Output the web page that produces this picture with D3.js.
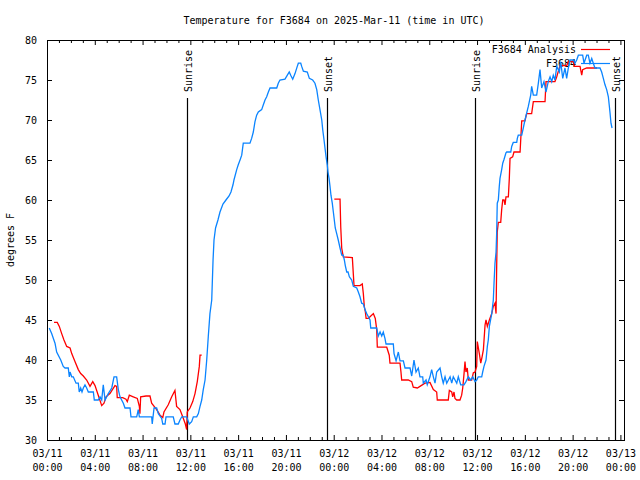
<!DOCTYPE html>
<html>
<head>
<meta charset="utf-8">
<script src="https://cdn.jsdelivr.net/npm/d3@7"></script>
<style>
  html, body { margin: 0; padding: 0; background: #fff; }
  svg { display: block; }
  text { font-family: "DejaVu Sans Mono", "Liberation Mono", monospace; font-size: 10px; fill: #000; }
</style>
</head>
<body>
<svg id="chart" width="640" height="480"></svg>
<script>
// ---------------- data (hours since 2025-03-11 00:00 UTC, deg F) ----------------
const titleText = "Temperature for F3684 on 2025-Mar-11 (time in UTC)";
const yLabel = "degrees F";
const seriesNames = ["F3684 Analysis", "F3684"];
const seriesColors = ["#ff0000", "#0a84ff"];

const yTicks = [30, 35, 40, 45, 50, 55, 60, 65, 70, 75, 80];
const xMajorHours = [0, 4, 8, 12, 16, 20, 24, 28, 32, 36, 40, 44, 48];
const xTickDates = ["03/11","03/11","03/11","03/11","03/11","03/11","03/12","03/12","03/12","03/12","03/12","03/12","03/13"];
const xTickTimes = ["00:00","04:00","08:00","12:00","16:00","20:00","00:00","04:00","08:00","12:00","16:00","20:00","00:00"];

const sunLabels = ["Sunrise", "Sunset", "Sunrise", "Sunset"];
const sunHours = [11.74, 23.46, 35.80, 47.52];

const obsHours = [0.19,0.39,0.67,0.81,1.15,1.36,1.51,1.78,1.87,1.93,2.07,2.20,2.43,2.62,2.70,2.82,2.93,3.04,3.18,3.32,3.46,3.88,3.96,4.29,4.44,4.58,4.71,4.86,5.00,5.13,5.42,5.61,5.83,5.97,6.11,6.39,6.53,6.95,7.03,7.51,7.64,7.73,8.76,8.81,8.96,9.18,9.32,9.60,9.69,9.88,9.96,10.57,10.71,10.99,11.13,11.28,11.69,11.91,12.11,12.25,12.53,12.67,12.81,12.95,13.08,13.23,13.37,13.50,13.64,13.79,13.90,13.98,14.11,14.31,14.48,14.73,14.98,15.24,15.40,15.57,15.65,15.88,16.01,16.16,16.30,16.43,16.99,17.13,17.27,17.41,17.55,17.69,17.97,18.11,18.25,18.39,18.53,18.67,19.23,19.36,19.50,19.92,20.12,20.28,20.40,20.57,20.76,20.95,21.04,21.24,21.32,21.46,21.79,21.96,22.24,22.43,22.58,22.71,22.85,23.00,23.08,23.19,23.27,23.36,23.46,23.52,23.61,23.69,23.77,23.88,23.97,24.05,24.13,24.25,24.38,24.53,24.67,24.80,24.89,24.97,25.09,25.20,25.31,25.51,25.64,25.93,26.06,26.20,26.34,26.48,26.62,26.76,26.90,27.04,27.10,27.60,27.73,27.88,28.02,28.15,28.29,28.38,28.99,29.05,29.22,29.41,29.55,29.83,29.97,30.39,30.53,30.72,30.89,31.08,31.22,31.45,31.50,31.73,31.83,32.06,32.20,32.34,32.48,32.62,32.90,33.04,33.17,33.32,33.46,33.74,33.88,34.01,34.30,34.43,34.63,34.91,35.07,35.27,35.47,35.64,35.83,35.97,36.10,36.39,36.47,36.58,36.75,36.86,36.94,37.03,37.23,37.36,37.42,37.50,37.59,37.64,37.69,37.78,37.86,37.92,38.06,38.15,38.26,38.42,38.48,38.82,38.90,39.03,39.32,39.37,39.45,39.74,39.87,40.01,40.29,40.49,40.57,40.71,40.99,41.13,41.27,41.41,41.60,41.77,41.96,42.11,42.25,42.38,42.52,42.67,42.89,43.00,43.17,43.36,43.50,43.64,43.78,44.06,44.20,44.34,44.48,44.84,44.95,45.18,45.31,45.45,45.60,45.73,45.87,46.29,46.43,46.57,46.71,46.85,46.99,47.13,47.21,47.30];
const obsTemps = [44.0,43.3,42.1,41.0,40.0,39.2,39.0,39.0,37.9,38.5,37.9,37.9,37.1,37.1,36.0,36.5,36.0,36.5,36.9,36.5,36.0,36.0,35.0,35.0,35.4,35.0,36.9,35.0,35.4,35.8,36.5,37.9,37.9,36.3,35.4,34.6,34.0,34.0,32.9,32.9,33.8,32.9,32.9,32.0,34.0,34.0,33.3,32.7,32.0,32.0,32.9,32.9,32.0,32.0,32.5,32.9,32.9,32.0,32.3,32.9,32.9,33.3,34.2,35.0,36.3,37.5,40.0,42.9,45.8,47.5,52.5,55.0,56.5,57.5,58.5,59.5,60.0,60.5,61.0,61.9,62.5,63.8,64.4,65.0,65.6,67.1,67.1,67.7,68.5,69.8,70.6,71.0,71.3,71.9,72.5,72.9,73.5,74.0,74.0,74.6,75.0,75.1,75.6,76.0,75.6,75.1,75.8,76.7,77.1,77.1,76.7,76.1,76.0,75.2,75.0,74.6,73.8,72.5,71.3,70.0,68.8,67.5,66.5,65.4,64.4,63.5,62.7,61.7,60.6,59.6,58.5,57.5,56.5,55.8,55.0,54.0,53.1,53.1,52.5,51.8,51.0,51.0,50.4,50.0,49.2,49.0,48.5,47.9,47.1,47.0,46.3,45.8,45.4,45.0,44.0,44.0,43.0,43.5,43.0,43.5,42.7,42.0,42.0,40.8,39.9,41.0,39.9,39.9,39.0,39.0,38.0,40.0,38.5,39.0,37.9,37.9,37.1,37.5,36.9,37.9,38.8,37.9,37.1,38.5,39.0,37.9,37.1,37.9,37.1,37.9,37.1,37.9,37.1,37.9,36.9,36.9,37.3,37.9,37.5,37.9,37.3,37.5,37.9,37.9,38.5,39.2,40.0,41.7,42.5,44.2,45.8,47.5,49.6,52.1,53.5,55.8,59.6,60.0,61.7,62.7,63.8,64.6,65.1,65.9,66.0,66.0,66.7,67.2,67.2,67.7,68.1,68.1,69.0,70.0,71.7,73.1,74.2,73.1,73.1,74.6,76.3,74.0,74.8,73.5,74.8,75.4,74.8,75.6,75.0,76.7,76.0,77.3,75.2,76.5,75.2,76.5,77.5,77.5,77.1,77.5,78.1,78.1,77.1,78.1,78.1,77.1,77.7,77.1,76.5,76.5,76.0,75.2,74.4,73.8,72.9,70.9,69.6,69.0];

const anaHours = [0.59,0.86,1.03,1.23,1.42,1.65,1.93,2.07,2.34,2.62,2.82,3.04,3.32,3.60,3.83,4.02,4.29,4.58,4.77,4.94,5.27,5.69,5.83,5.88,6.34,6.61,6.72,6.89,7.22,7.56,7.73,7.78,7.84,8.29,8.62,8.76,9.18,9.46,9.69,9.79,10.15,10.44,10.71,10.85,11.13,11.36,11.58,11.69,11.74,11.97,12.20,12.39,12.58,12.75,12.81,12.95,
  18.00,
  24.05,24.53,24.59,24.67,24.80,25.56,25.64,25.70,26.20,26.39,26.48,26.56,26.65,26.71,26.90,27.04,27.32,27.48,27.60,27.65,28.44,28.65,28.71,29.55,29.63,29.69,30.24,30.53,30.66,31.00,31.22,31.64,32.06,32.34,32.62,32.67,33.59,33.68,33.88,33.96,34.07,34.15,34.30,34.57,34.71,34.80,34.91,34.99,35.07,35.18,35.27,35.55,35.69,35.83,35.97,36.02,36.19,36.31,36.42,36.53,36.67,36.75,36.86,37.03,37.23,37.36,37.50,37.59,37.64,37.69,37.78,37.98,38.06,38.15,38.26,38.34,38.42,38.62,38.70,38.76,38.98,39.09,39.60,39.74,40.01,40.15,40.57,40.71,41.69,41.77,42.52,42.67,42.94,43.50,43.64,44.06,44.14,44.62,44.76,44.84,45.18,46.04];
const anaTemps = [44.7,44.7,44.2,43.3,42.5,41.7,41.5,40.8,39.8,38.8,38.3,38.0,37.5,36.7,37.3,36.8,35.6,34.3,34.6,35.4,35.8,36.8,36.7,35.3,35.3,35.1,34.8,35.6,35.4,35.2,34.2,33.3,35.4,35.5,35.5,34.6,33.8,33.1,32.8,33.5,34.4,35.4,36.2,34.2,33.8,32.9,32.0,31.3,33.5,34.0,34.8,35.8,37.3,39.2,40.6,40.6,
  null,
  60.1,60.1,56.6,54.0,52.9,52.8,50.8,49.3,49.3,49.5,48.3,46.7,46.0,45.2,45.2,45.4,45.8,45.2,43.8,41.6,41.6,40.6,39.6,39.6,38.5,37.5,37.5,37.3,36.6,36.5,36.7,37.1,37.2,36.3,36.0,35.0,35.0,36.2,36.0,35.4,36.0,35.2,35.0,35.0,35.6,36.5,38.3,39.8,38.5,39.0,37.5,37.5,38.4,38.5,39.2,42.3,40.8,39.6,40.4,41.3,44.4,45.0,44.2,45.0,45.8,46.7,47.1,45.8,51.5,56.0,57.2,57.2,58.8,60.0,60.0,59.4,60.4,60.4,62.7,65.2,65.4,66.0,66.0,69.9,69.9,70.8,70.8,72.3,72.3,74.8,74.8,75.4,76.8,76.8,77.3,77.3,76.7,76.7,75.6,76.3,76.5,76.5];

// ---------------- chart ----------------
const svg = d3.select("#chart");
svg.append("rect").attr("width", 640).attr("height", 480).attr("fill", "#fff");

const L = 47, R = 624, T = 40, B = 440;
const x = d3.scaleLinear().domain([0, 48.3]).range([L, R]);
const y = d3.scaleLinear().domain([30, 80]).range([B, T]);

// title
svg.append("text").attr("x", 334).attr("y", 20).attr("text-anchor", "middle")
  .attr("dominant-baseline", "central").text(titleText);

// y label
svg.append("text").attr("transform", `translate(10,240) rotate(-90)`)
  .attr("text-anchor", "middle").attr("dominant-baseline", "central").text(yLabel);

const minorHours = d3.range(0, 49).filter(h => h % 4 !== 0);

// bottom axis major
const gB = svg.append("g").attr("transform", `translate(0,${B})`)
  .call(d3.axisBottom(x).tickValues(xMajorHours).tickSize(-5).tickPadding(9).tickFormat(""));
gB.select(".domain").remove();
gB.selectAll(".tick text").each(function(d, i) {
  const t = d3.select(this);
  t.attr("dy", null).attr("y", 0);
  t.append("tspan").attr("x", 0).attr("y", 17).text(xTickDates[i]);
  t.append("tspan").attr("x", 0).attr("y", 31).text(xTickTimes[i]);
});
const gBm = svg.append("g").attr("transform", `translate(0,${B})`)
  .call(d3.axisBottom(x).tickValues(minorHours).tickSize(-3).tickFormat(""));
gBm.select(".domain").remove();

// top axis mirror
const gT = svg.append("g").attr("transform", `translate(0,${T})`)
  .call(d3.axisTop(x).tickValues(xMajorHours).tickSize(-5).tickFormat(""));
gT.select(".domain").remove();
const gTm = svg.append("g").attr("transform", `translate(0,${T})`)
  .call(d3.axisTop(x).tickValues(minorHours).tickSize(-3).tickFormat(""));
gTm.select(".domain").remove();

// left axis
const gL = svg.append("g").attr("transform", `translate(${L},0)`)
  .call(d3.axisLeft(y).tickValues(yTicks).tickSize(-5).tickPadding(10).tickFormat(d3.format("d")));
gL.select(".domain").remove();
gL.selectAll(".tick text").attr("dy", "0.35em");

// right axis mirror
const gR = svg.append("g").attr("transform", `translate(${R},0)`)
  .call(d3.axisRight(y).tickValues(yTicks).tickSize(-5).tickFormat(""));
gR.select(".domain").remove();

svg.selectAll(".tick text").style("font-family", "'DejaVu Sans Mono', monospace").style("font-size", "10px").attr("fill", "#000");
svg.selectAll(".tick line").attr("stroke", "#000");

// frame
svg.append("rect").attr("x", L + 0.5).attr("y", T + 0.5).attr("width", R - L).attr("height", B - T)
  .attr("fill", "none").attr("stroke", "#000").attr("stroke-width", 1);

// sunrise / sunset markers
sunHours.forEach((h, i) => {
  const px = Math.round(x(h)) + 0.5;
  svg.append("line").attr("x1", px).attr("x2", px).attr("y1", 98).attr("y2", B)
    .attr("stroke", "#000").attr("stroke-width", 1.2);
  svg.append("text").attr("transform", `translate(${px + 1},92) rotate(-90)`)
    .attr("text-anchor", "start").attr("dominant-baseline", "central").text(sunLabels[i]);
});

// legend
const legY = [49, 63];
seriesNames.forEach((n, i) => {
  svg.append("text").attr("x", 576).attr("y", legY[i]).attr("text-anchor", "end")
    .attr("dominant-baseline", "central").text(n);
  svg.append("line").attr("x1", 581).attr("x2", 610).attr("y1", legY[i] + 0.5).attr("y2", legY[i] + 0.5)
    .attr("stroke", seriesColors[i]).attr("stroke-width", 1.2);
});

// series
const line = d3.line().defined(d => d[1] !== null).x(d => x(d[0])).y(d => y(d[1]));
const anaData = anaHours.map((h, i) => [h, anaTemps[i]]);
const obsData = obsHours.map((h, i) => [h, obsTemps[i]]);
svg.append("path").datum(anaData).attr("d", line).attr("fill", "none")
  .attr("stroke", seriesColors[0]).attr("stroke-width", 1.3).attr("stroke-linejoin", "miter");
svg.append("path").datum(obsData).attr("d", line).attr("fill", "none")
  .attr("stroke", seriesColors[1]).attr("stroke-width", 1.3).attr("stroke-linejoin", "miter");
</script>
</body>
</html>
